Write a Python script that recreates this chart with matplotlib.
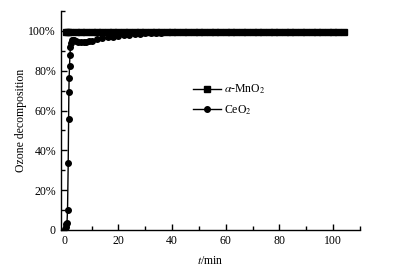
import matplotlib
matplotlib.use("Agg")
import matplotlib.pyplot as plt
from matplotlib.ticker import MultipleLocator

# alpha-MnO2: stays at ~99.5 % for the whole run
mno2_t = [0.3, 1, 2, 4, 6, 8, 10, 12, 14, 16, 18, 20, 22, 24, 26, 28, 30,
          32, 34, 36, 38, 40, 42, 44, 46, 48, 50, 52, 54, 56, 58, 60, 62,
          64, 66, 68, 70, 72, 74, 76, 78, 80, 82, 84, 86, 88, 90, 92, 94,
          96, 98, 100, 102, 104]
mno2_val = [99.5, 99.6, 99.6, 99.6, 99.6, 99.6, 99.6, 99.6, 99.6, 99.6,
            99.6, 99.6, 99.6, 99.6, 99.6, 99.6, 99.6, 99.6, 99.6, 99.6,
            99.6, 99.6, 99.6, 99.6, 99.6, 99.6, 99.6, 99.6, 99.6, 99.6,
            99.6, 99.6, 99.6, 99.6, 99.6, 99.6, 99.6, 99.6, 99.6, 99.6,
            99.6, 99.6, 99.6, 99.6, 99.6, 99.6, 99.6, 99.6, 99.6, 99.6,
            99.6, 99.6, 99.6, 99.6]

# CeO2: fast rise, small dip, then slow approach to ~99.5 %
ceo2_t = [0.2, 0.4, 0.6, 0.8, 1.0, 1.25, 1.4, 1.5, 1.6, 1.75, 1.9, 2.1,
          2.3, 2.6, 3.0, 3.5, 4, 5, 6, 7, 8, 9, 10, 12, 14, 16, 18, 20,
          22, 24, 26, 28, 30, 32, 34, 36, 38, 40, 42, 44, 46, 48, 50, 52,
          54, 56, 58, 60, 62, 64, 66, 68, 70, 72, 74, 76, 78, 80, 82, 84,
          86, 88, 90, 92, 94, 96, 98, 100, 102, 104]
ceo2_val = [0.5, 1.5, 3.0, 3.5, 10.0, 33.5, 55.5, 69.5, 76.5, 82.5, 88.0,
            92.0, 94.0, 95.2, 95.5, 95.3, 95.0, 94.6, 94.4, 94.4, 94.6,
            94.8, 95.0, 95.7, 96.3, 96.8, 97.2, 97.5, 97.8, 98.1, 98.4,
            98.6, 98.8, 99.0, 99.1, 99.2, 99.3, 99.3, 99.4, 99.4, 99.4,
            99.5, 99.5, 99.5, 99.5, 99.5, 99.5, 99.5, 99.5, 99.5, 99.5,
            99.5, 99.5, 99.5, 99.5, 99.5, 99.5, 99.5, 99.5, 99.5, 99.5,
            99.5, 99.5, 99.5, 99.5, 99.5, 99.5, 99.5, 99.5, 99.5]

y_ticks = [0, 20, 40, 60, 80, 100]
y_labels = ["0", "20%", "40%", "60%", "80%", "100%"]
x_ticks = [0, 20, 40, 60, 80, 100]

plt.rcParams["font.family"] = ["Liberation Serif", "DejaVu Serif"]
plt.rcParams["mathtext.fontset"] = "stix"

fig = plt.figure(figsize=(3.95, 2.76), dpi=100)
ax = fig.add_axes([0.154, 0.167, 0.757, 0.793])

ax.plot(mno2_t, mno2_val, color="black", lw=1.0, marker="s", ms=4.0,
        label=r"$\alpha$-MnO$_2$")
ax.plot(ceo2_t, ceo2_val, color="black", lw=1.0, marker="o", ms=4.0,
        label="CeO$_2$")

ax.set_xlim(-1.5, 110)
ax.set_ylim(0, 110)
ax.set_xticks(x_ticks)
ax.set_yticks(y_ticks)
ax.set_yticklabels(y_labels)
ax.xaxis.set_minor_locator(MultipleLocator(10))
ax.yaxis.set_minor_locator(MultipleLocator(10))

for s in ["top", "right"]:
    ax.spines[s].set_visible(False)
for s in ["left", "bottom"]:
    ax.spines[s].set_linewidth(1.0)

ax.tick_params(which="both", direction="in", labelsize=8.5, width=1.0)
ax.tick_params(which="major", length=4.5)
ax.tick_params(which="minor", length=2.8)

ax.set_xlabel("$t$/min", fontsize=8.5, labelpad=6)
ax.set_ylabel("Ozone decomposition", fontsize=8.5, labelpad=1)

ax.legend(loc="upper left", bbox_to_anchor=(0.405, 0.72), frameon=False,
          fontsize=8.5, handlelength=2.4, handletextpad=0.3,
          labelspacing=0.6)

fig.savefig("out.png", dpi=100)
